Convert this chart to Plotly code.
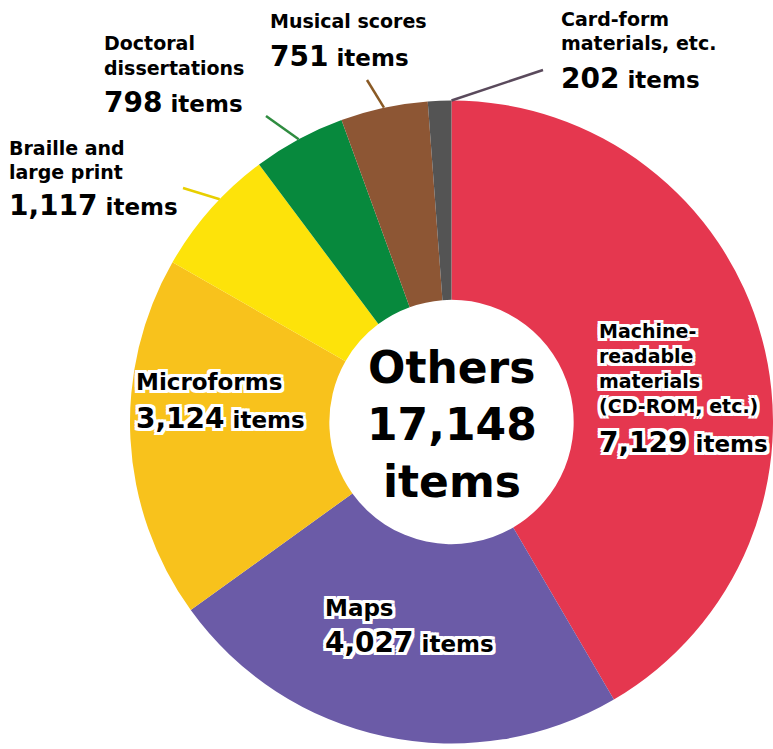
import math

import plotly.graph_objects as go

W, H = 773, 749

# clockwise from 12 o'clock
categories = [
    "Machine-readable materials (CD-ROM, etc.)",
    "Maps",
    "Microforms",
    "Braille and large print",
    "Doctoral dissertations",
    "Musical scores",
    "Card-form materials, etc.",
]
values = [7129, 4027, 3124, 1117, 798, 751, 202]
total_label = "17,148"
slice_colors = ["#e5374f", "#6b5ba7", "#f8c21c", "#fde30a", "#07893d", "#8d5634", "#545454"]

FONT = "DejaVu Sans, Verdana, sans-serif"
OUTLINE = ", ".join(
    f"{dx}px {dy}px 0 #fff" for dx in (-3, 0, 3) for dy in (-3, 0, 3) if dx or dy
)

# pie geometry in pixels
X0_PX, TOP_PX, R_PX = 130, 100.5, 321.5
CX, CY = X0_PX + R_PX, TOP_PX + R_PX
PAD = 3  # annotation box padding


def px(x, y):
    return x / W, 1 - y / H


fig = go.Figure(
    go.Pie(
        labels=categories,
        values=values,
        sort=False,
        direction="clockwise",
        rotation=0,
        hole=0.38,
        textinfo="none",
        hoverinfo="label+value",
        marker=dict(colors=slice_colors, line=dict(width=0)),
        domain=dict(x=[X0_PX / W, 1], y=[1 - (TOP_PX + 2 * R_PX) / H, 1 - TOP_PX / H]),
        showlegend=False,
    )
)


def add_line(x, baseline, text, size, outline=False, anchor="left"):
    if anchor == "left":
        x -= PAD
    xp, yp = px(x, baseline - 0.35 * size)
    fig.add_annotation(
        x=xp, y=yp, xref="paper", yref="paper", xanchor=anchor, yanchor="middle",
        text=text, showarrow=False, align=anchor,
        font=dict(family=FONT, size=size, color="#000", weight="bold",
                  shadow=OUTLINE if outline else "none"),
    )


def add_count(x, baseline, n, outline=False):
    xp, yp = px(x - PAD, baseline - 0.35 * 28)
    fig.add_annotation(
        x=xp, y=yp, xref="paper", yref="paper", xanchor="left", yanchor="middle",
        text=f"<span style='font-size:28px'>{n:,}</span> items", showarrow=False,
        font=dict(family=FONT, size=23, color="#000", weight="bold",
                  shadow=OUTLINE if outline else "none"),
    )


# label blocks: (x, baselines, lines, label size, outline, count baseline)
label_blocks = [
    (600, [338, 363, 388, 413], ["Machine-", "readable", "materials", "(CD-ROM, etc.)"], 19, True, 452),
    (326, [616], ["Maps"], 23, True, 652),
    (137, [390], ["Microforms"], 23, True, 428),
    (10, [155, 179], ["Braille and", "large print"], 19, False, 215),
    (105, [50, 75], ["Doctoral", "dissertations"], 19, False, 112),
    (271, [28], ["Musical scores"], 19, False, 66),
    (562, [26, 50], ["Card-form", "materials, etc."], 19, False, 88),
]
for (x, baselines, lines, size, outline, num_base), v in zip(label_blocks, values):
    for b, t in zip(baselines, lines):
        add_line(x, b, t, size, outline)
    add_count(x, num_base, v, outline)

# centre text
for b, t in zip([383, 440, 497], ["Others", total_label, "items"]):
    add_line(CX, b, t, 44, anchor="center")

# leader lines from slice edge to label
leader_ends = {3: (183, 188, "#e8cf00"), 4: (266, 116, "#2f8c40"),
               5: (367, 80, "#8a5a25"), 6: (543, 70, "#5a4a5c")}
leader_pos = {3: 0.6, 4: 0.5, 5: 0.5, 6: 1.0}
total = sum(values)
cum = 0
for i, v in enumerate(values):
    if i in leader_ends:
        ang = 2 * math.pi * (cum + v * leader_pos[i]) / total
        sx, sy = CX + R_PX * math.sin(ang), CY - R_PX * math.cos(ang)
        ex, ey, col = leader_ends[i]
        x0, y0 = px(sx, sy)
        x1, y1 = px(ex, ey)
        fig.add_shape(type="line", xref="paper", yref="paper", x0=x0, y0=y0, x1=x1, y1=y1,
                      line=dict(color=col, width=2.5))
    cum += v

fig.update_layout(
    width=W, height=H,
    margin=dict(l=0, r=0, t=0, b=0),
    paper_bgcolor="white", plot_bgcolor="white",
)
fig.write_html("out.html", config={"displayModeBar": False},
               post_script="document.body.style.margin = '0';")
